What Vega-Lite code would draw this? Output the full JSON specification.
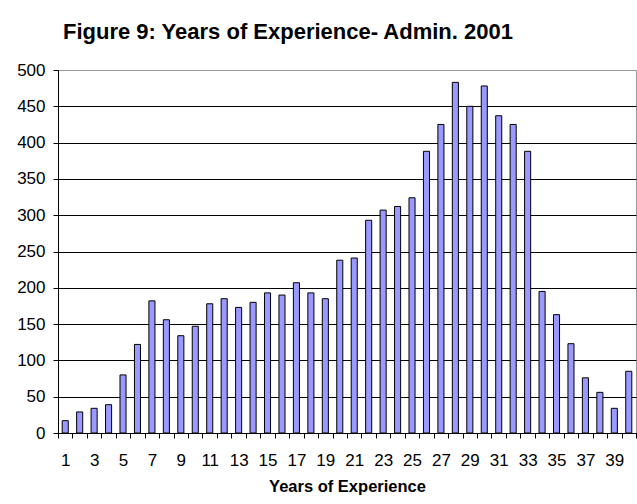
{
  "$schema": "https://vega.github.io/schema/vega-lite/v6.json",
  "autosize": "none",
  "width": 578,
  "height": 363,
  "padding": {"left": 58, "top": 70, "right": 1, "bottom": 71},
  "background": "white",
  "title": {
    "text": "Figure 9: Years of Experience- Admin. 2001",
    "anchor": "start",
    "frame": "group",
    "dx": 5,
    "font": "Liberation Sans",
    "fontSize": 22,
    "fontWeight": "bold",
    "color": "#000000",
    "offset": 17
  },
  "data": {
    "values": [
      {"years": 1, "count": 17}, {"years": 2, "count": 29}, {"years": 3, "count": 34}, {"years": 4, "count": 39},
      {"years": 5, "count": 80}, {"years": 6, "count": 122}, {"years": 7, "count": 182}, {"years": 8, "count": 156},
      {"years": 9, "count": 134}, {"years": 10, "count": 147}, {"years": 11, "count": 178}, {"years": 12, "count": 185},
      {"years": 13, "count": 173}, {"years": 14, "count": 180}, {"years": 15, "count": 193}, {"years": 16, "count": 190},
      {"years": 17, "count": 207}, {"years": 18, "count": 193}, {"years": 19, "count": 185}, {"years": 20, "count": 238},
      {"years": 21, "count": 241}, {"years": 22, "count": 293}, {"years": 23, "count": 307}, {"years": 24, "count": 312},
      {"years": 25, "count": 324}, {"years": 26, "count": 388}, {"years": 27, "count": 425}, {"years": 28, "count": 483},
      {"years": 29, "count": 450}, {"years": 30, "count": 478}, {"years": 31, "count": 437}, {"years": 32, "count": 425},
      {"years": 33, "count": 388}, {"years": 34, "count": 195}, {"years": 35, "count": 163}, {"years": 36, "count": 123},
      {"years": 37, "count": 76}, {"years": 38, "count": 56}, {"years": 39, "count": 34}, {"years": 40, "count": 85}
    ]
  },
  "mark": {"type": "bar", "fill": "#9999FF", "stroke": "#000000", "strokeWidth": 1, "width": {"band": 0.42}},
  "encoding": {
    "x": {
      "field": "years",
      "type": "ordinal",
      "sort": "ascending",
      "scale": {"paddingInner": 0, "paddingOuter": 0},
      "axis": {
        "title": "Years of Experience",
        "titleFont": "Liberation Sans",
        "titleFontSize": 16.5,
        "titleFontWeight": "bold",
        "titleColor": "#000000",
        "titlePadding": 10,
        "labelAngle": 0,
        "labelFont": "Liberation Sans",
        "labelFontSize": 17,
        "labelColor": "#000000",
        "labelPadding": 14,
        "labelExpr": "datum.value % 2 == 1 ? datum.label : ''",
        "tickBand": "extent",
        "tickSize": 5,
        "tickColor": "#000000",
        "domainColor": "#000000",
        "grid": false
      }
    },
    "y": {
      "field": "count",
      "type": "quantitative",
      "scale": {"domain": [0, 500], "nice": false},
      "axis": {
        "title": null,
        "values": [0, 50, 100, 150, 200, 250, 300, 350, 400, 450, 500],
        "labelFont": "Liberation Sans",
        "labelFontSize": 17,
        "labelColor": "#000000",
        "labelPadding": 8,
        "tickSize": 5,
        "tickColor": "#000000",
        "domainColor": "#000000",
        "grid": true,
        "gridColor": {"condition": {"test": "datum.value == 500", "value": "#999999"}, "value": "#000000"},
        "gridOpacity": 1
      }
    }
  },
  "config": {
    "view": {"stroke": "#999999", "strokeWidth": 1},
    "axis": {"labelOverlap": false}
  }
}
